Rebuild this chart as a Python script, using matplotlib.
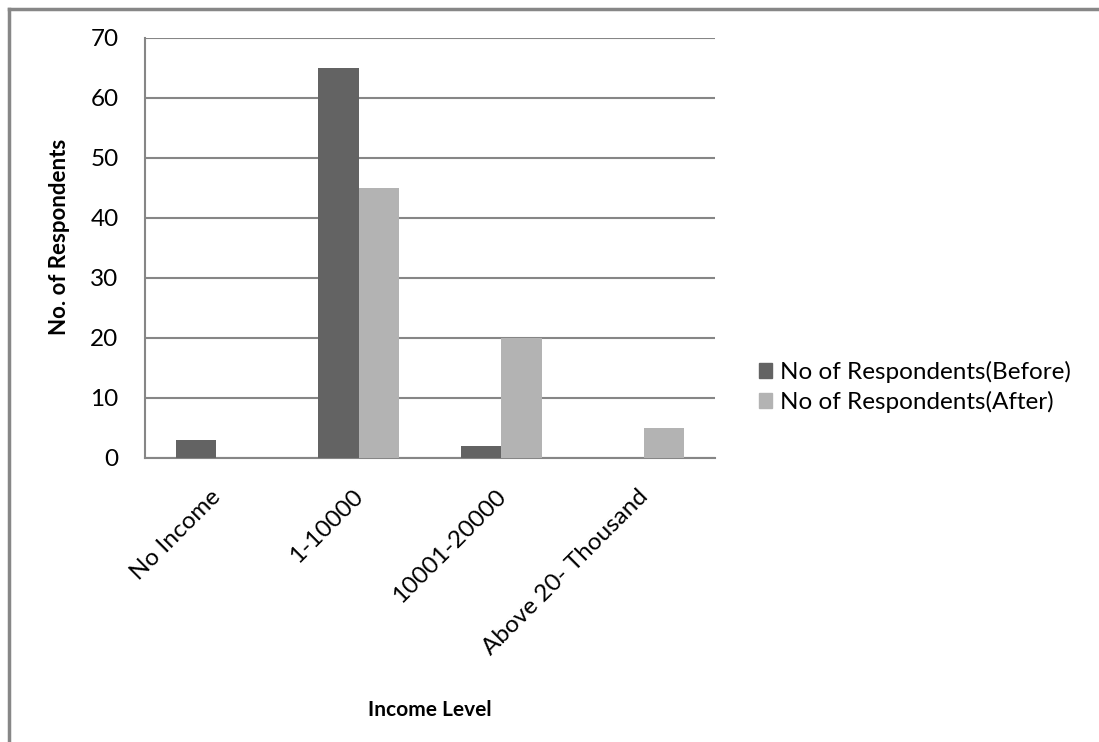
import numpy as np
import matplotlib.pyplot as plt
import matplotlib.transforms as mtransforms
from matplotlib.patches import Rectangle
from matplotlib.lines import Line2D

# income groups and respondent counts
categories = ['No Income', '1-10000', '10001-20000', 'Above 20- Thousand']
before = [3, 65, 2, 0]
after = [0, 45, 20, 5]
series_names = ['No of Respondents(Before)', 'No of Respondents(After)']
yticks = [0, 10, 20, 30, 40, 50, 60, 70]

plt.rcParams['font.family'] = ['Lato', 'DejaVu Sans']

c_before = '#636363'
c_after = '#b3b3b3'
c_grid = '#868686'

fig = plt.figure(figsize=(10.99, 7.42), dpi=100)
ax = fig.add_axes([145/1099, 1-458/742, 570/1099, 420/742])

x = np.arange(len(categories))
w = 1/3.5
ax.bar(x - w/2, before, width=w, color=c_before, label=series_names[0], zorder=3)
ax.bar(x + w/2, after, width=w, color=c_after, label=series_names[1], zorder=3)

ax.set_xlim(-0.5, len(categories) - 0.5)
ax.set_ylim(0, 70)
ax.set_yticks(yticks)
ax.yaxis.grid(True, color=c_grid, linewidth=1.5, zorder=0)
ax.set_axisbelow(True)

for s in ['top', 'right']:
    ax.spines[s].set_visible(False)
for s in ['left', 'bottom']:
    ax.spines[s].set_color(c_grid)
    ax.spines[s].set_linewidth(1.5)

ax.tick_params(axis='both', length=0, labelsize=17.5)
ax.set_xticks(x)
ax.set_xticklabels(categories, rotation=45, ha='right', rotation_mode='anchor')
ax.tick_params(axis='x', pad=20)
ax.tick_params(axis='y', pad=19)

# nudge the slanted category labels a little to the left
shift = mtransforms.ScaledTranslation(-6/100, 0, fig.dpi_scale_trans)
for lbl in ax.get_xticklabels():
    lbl.set_transform(lbl.get_transform() + shift)

ax.set_ylabel('No. of Respondents', fontsize=16, fontweight='bold')
ax.set_xlabel('Income Level', fontsize=15, fontweight='bold')
ax.xaxis.set_label_coords(0.5, -(700-458)/420)
ax.yaxis.set_label_coords(-(145-70)/570, (458-237)/420)

handles = [Rectangle((0, 0), 1, 1, color=c_before), Rectangle((0, 0), 1, 1, color=c_after)]
fig.legend(handles, series_names, loc='center left', bbox_to_anchor=(737/1099, 1-387/742),
           frameon=False, fontsize=17.5, handlelength=0.55, handleheight=0.55,
           handletextpad=0.3, labelspacing=0.32)

# outer chart frame (left and top edges)
fig.add_artist(Line2D([9/1099, 9/1099], [0, 1-9/742], color='#878787', linewidth=2.5,
                      transform=fig.transFigure))
fig.add_artist(Line2D([9/1099, 1], [1-9/742, 1-9/742], color='#878787', linewidth=2.5,
                      transform=fig.transFigure))

fig.savefig('out.png', dpi=100)
